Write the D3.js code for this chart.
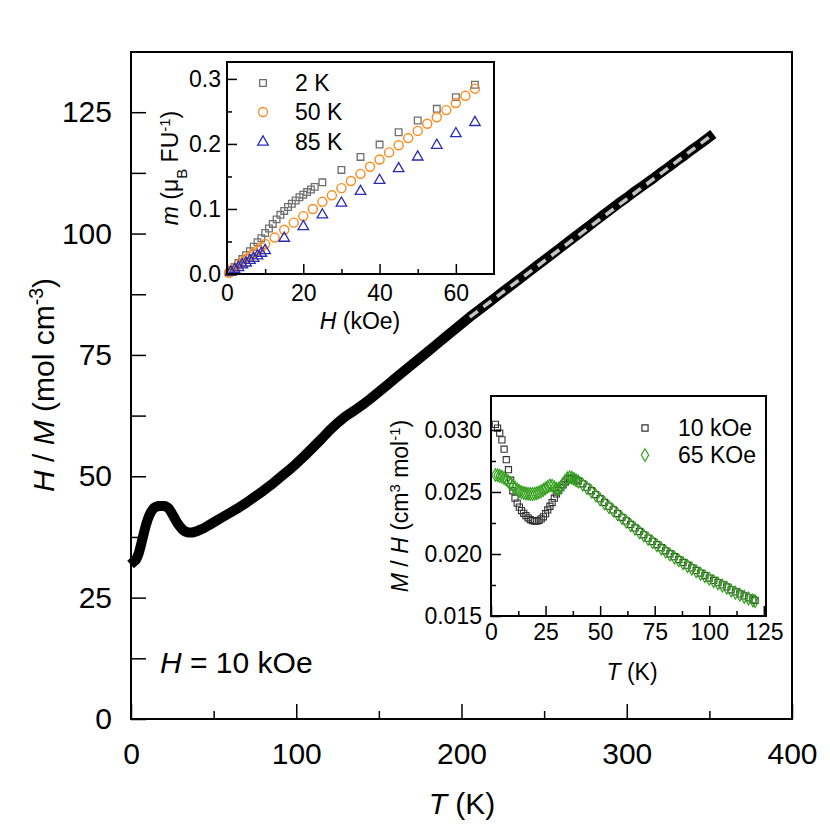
<!DOCTYPE html>
<html>
<head>
<meta charset="utf-8">
<script src="https://cdn.jsdelivr.net/npm/d3@7"></script>
<style>
  html, body { margin: 0; padding: 0; background: #fff; }
  text { font-family: "Liberation Sans", Arial, Helvetica, sans-serif; fill: #000; }
</style>
</head>
<body>
<svg id="chart" width="830" height="830"></svg>
<script>
// ---------------- DATA ----------------
// Main panel: H/M vs T at H = 10 kOe
const mainT  = [2,3,4,5,6,7,8,9,10,11,12,13,14,15,16,17,18,19,20,21,22,23,24,25,26,27,28,29,30,31,32,33,34,35,36,37,38,40,42,44,46,48,50,55,60,65,70,75,80,85,90,95,100,105,110,115,120,125,130,135,140,145,150,155,160,165,170,175,180,185,190,195,200,205,210,215,220,225,230,235,240,245,250,255,260,265,270,275,280,285,290,295,300,305,310,315,320,325,330,335,340,345,350];
const mainHM = [32.5,32.8,33.5,34.5,35.8,37.2,38.6,39.9,41.0,41.9,42.6,43.1,43.5,43.7,43.8,43.9,43.9,43.9,43.9,43.8,43.6,43.3,42.8,42.2,41.6,41.0,40.4,39.9,39.5,39.1,38.8,38.6,38.5,38.4,38.4,38.4,38.5,38.7,39.0,39.3,39.7,40.1,40.5,41.5,42.5,43.5,44.6,45.8,47.0,48.3,49.7,51.1,52.6,54.2,55.9,57.6,59.4,61.0,62.4,63.5,64.7,66.0,67.4,68.8,70.2,71.6,73.0,74.4,75.8,77.2,78.6,80.0,81.4,82.8,84.1,85.4,86.7,88.0,89.3,90.6,91.9,93.2,94.5,95.8,97.1,98.4,99.7,101.0,102.3,103.6,104.9,106.2,107.4,108.7,109.9,111.1,112.4,113.6,114.9,116.1,117.4,118.6,119.9];
// Curie-Weiss fit (dashed) end points
const fitT  = [205, 350];
const fitHM = [82.8, 119.9];

const mainXTicks = [0,100,200,300,400];
const mainXMinor = [50,150,250,350];
const mainYTicks = [0,25,50,75,100,125];
const mainYMinor = [12.5,37.5,62.5,87.5,112.5];

// Inset 1: m vs H
const h2K = [0.5,1,2,3,4,5,6,7,8,9,10,11,12,13,14,15,16,17,18,19,20,21,22,23,25,30,35,40,45,50,55,60,65];
const m2K = [0.002,0.005,0.011,0.017,0.023,0.029,0.035,0.042,0.049,0.055,0.063,0.070,0.077,0.084,0.091,0.097,0.103,0.108,0.113,0.118,0.122,0.126,0.130,0.134,0.141,0.160,0.180,0.199,0.218,0.236,0.254,0.272,0.291];
const h50K = [0.5,1,2,3,4,5,6,7,8,9,10,12.5,15,17.5,20,22.5,25,27.5,30,32.5,35,37.5,40,42.5,45,47.5,50,52.5,55,57.5,60,62.5,65];
const m50K = [0.002,0.005,0.009,0.014,0.018,0.023,0.027,0.032,0.036,0.041,0.046,0.056,0.068,0.079,0.089,0.100,0.111,0.121,0.132,0.143,0.154,0.165,0.176,0.187,0.198,0.209,0.220,0.231,0.241,0.252,0.263,0.274,0.285];
const h85K = [1,2,3,4,5,6,7,8,9,10,15,20,25,30,35,40,45,50,55,60,65];
const m85K = [0.003,0.007,0.010,0.014,0.017,0.021,0.024,0.028,0.032,0.036,0.055,0.073,0.091,0.109,0.127,0.144,0.162,0.180,0.198,0.216,0.233];
const in1XTicks = [0,20,40,60];
const in1XMinor = [10,30,50];
const in1YTicks = [0,0.1,0.2,0.3];
const in1YMinor = [0.05,0.15,0.25];

// Inset 2: M/H vs T
const chiT = [2,3,4,5,6,7,8,9,10,11,12,13,14,15,16,17,18,19,20,21,22,23,24,25,26,27,28,29,30,31,32,33,34,35,36,37,38,39,40,42,44,46,48,50,52,54,56,58,60,62,64,66,68,70,72,74,76,78,80,82,84,86,88,90,92,94,96,98,100,102,104,106,108,110,112,114,116,118,120,121];
const chi10k = [0.03045,0.03015,0.02975,0.02920,0.02845,0.02760,0.02680,0.02595,0.02510,0.02450,0.02410,0.02378,0.02350,0.02328,0.02310,0.02292,0.02278,0.02270,0.02266,0.02266,0.02272,0.02283,0.02300,0.02325,0.02355,0.02385,0.02415,0.02450,0.02485,0.02512,0.02535,0.02558,0.02580,0.02598,0.02610,0.02612,0.02606,0.02597,0.02590,0.02566,0.02539,0.02510,0.02479,0.02446,0.02416,0.02386,0.02356,0.02326,0.02296,0.02267,0.02238,0.02210,0.02182,0.02155,0.02128,0.02102,0.02076,0.02051,0.02026,0.02002,0.01978,0.01955,0.01932,0.01910,0.01888,0.01867,0.01846,0.01826,0.01806,0.01787,0.01769,0.01751,0.01734,0.01711,0.01694,0.01678,0.01662,0.01647,0.01632,0.01626];
const chi65k = [0.02637,0.02635,0.02630,0.02622,0.02612,0.02600,0.02585,0.02567,0.02550,0.02535,0.02520,0.02508,0.02498,0.02492,0.02488,0.02485,0.02484,0.02484,0.02486,0.02490,0.02497,0.02506,0.02517,0.02530,0.02542,0.02552,0.02550,0.02538,0.02525,0.02525,0.02540,0.02565,0.02590,0.02610,0.02618,0.02615,0.02605,0.02594,0.02585,0.02560,0.02533,0.02504,0.02473,0.02440,0.02410,0.02380,0.02350,0.02320,0.02290,0.02261,0.02232,0.02204,0.02176,0.02149,0.02122,0.02096,0.02070,0.02045,0.02020,0.01996,0.01972,0.01949,0.01926,0.01904,0.01882,0.01861,0.01840,0.01820,0.01800,0.01781,0.01763,0.01745,0.01728,0.01705,0.01688,0.01672,0.01656,0.01641,0.01626,0.01620];
const in2XTicks = [0,25,50,75,100,125];
const in2XMinor = [12.5,37.5,62.5,87.5,112.5];
const in2YTicks = [0.015,0.020,0.025,0.030];
const in2YMinor = [0.0175,0.0225,0.0275];

// ---------------- DRAW ----------------
const svg = d3.select("#chart");
const FONT_MAIN = 30, FONT_IN = 23;

function rich(sel, parts) {
  parts.forEach(p => {
    const t = sel.append("tspan").text(p.t);
    if (p.i) t.attr("font-style", "italic");
    if (p.sup) t.attr("baseline-shift", "super").attr("font-size", "0.65em");
    if (p.sub) t.attr("baseline-shift", "sub").attr("font-size", "0.65em");
  });
  return sel;
}

function drawAxes(g, x, y, opt) {
  const [x0, x1] = x.range(), [y0, y1] = y.range();
  g.append("g").attr("transform", `translate(0,${y0})`)
    .call(d3.axisBottom(x).tickValues(opt.xTicks).tickSize(-opt.major).tickPadding(opt.xPad).tickFormat(opt.xFmt))
    .call(s => { s.select(".domain").remove(); s.selectAll("text").attr("font-size", opt.font).attr("font-family", null); s.selectAll("line").attr("stroke-width", 1.5); });
  g.append("g").attr("transform", `translate(0,${y0})`)
    .call(d3.axisBottom(x).tickValues(opt.xMinor).tickSize(-opt.xMinorLen).tickFormat(""))
    .call(s => { s.select(".domain").remove(); s.selectAll("line").attr("stroke-width", 1.5); });
  g.append("g").attr("transform", `translate(${x0},0)`)
    .call(d3.axisLeft(y).tickValues(opt.yTicks).tickSize(-opt.major).tickPadding(opt.yPad).tickFormat(opt.yFmt))
    .call(s => { s.select(".domain").remove(); s.selectAll("text").attr("font-size", opt.font).attr("font-family", null); s.selectAll("line").attr("stroke-width", 1.5); });
  g.append("g").attr("transform", `translate(${x0},0)`)
    .call(d3.axisLeft(y).tickValues(opt.yMinor).tickSize(-opt.yMinorLen).tickFormat(""))
    .call(s => { s.select(".domain").remove(); s.selectAll("line").attr("stroke-width", 1.5); });
  g.append("rect").attr("x", x0).attr("y", y1).attr("width", x1 - x0).attr("height", y0 - y1)
    .attr("fill", "none").attr("stroke", "#000").attr("stroke-width", 2);
}

// ---- main panel ----
const xM = d3.scaleLinear().domain([0, 400]).range([131, 792]);
const yM = d3.scaleLinear().domain([0, 137.4]).range([719, 52]);
const gM = svg.append("g");

const lineM = d3.line().x((d, i) => xM(mainT[i])).y((d, i) => yM(mainHM[i]));
gM.append("path").datum(mainHM).attr("d", lineM).attr("fill", "none")
  .attr("stroke", "#000").attr("stroke-width", 10).attr("stroke-linejoin", "round").attr("stroke-linecap", "square");
const fitLine = d3.line().x((d, i) => xM(fitT[i])).y((d, i) => yM(fitHM[i]));
gM.append("path").datum(fitHM).attr("d", fitLine).attr("fill", "none")
  .attr("stroke", "#c4c4c4").attr("stroke-width", 3.5).attr("stroke-dasharray", "10,7");

drawAxes(gM, xM, yM, {
  xTicks: mainXTicks, xMinor: mainXMinor, yTicks: mainYTicks, yMinor: mainYMinor,
  major: 15, xMinorLen: 8, yMinorLen: 15, xPad: 24, yPad: 19, font: FONT_MAIN,
  xFmt: d3.format("d"), yFmt: d3.format("d")
});

rich(svg.append("text").attr("x", 462).attr("y", 814).attr("text-anchor", "middle").attr("font-size", FONT_MAIN),
  [{t: "T", i: true}, {t: " (K)"}]);
rich(svg.append("text").attr("transform", "translate(54,385) rotate(-90)").attr("text-anchor", "middle").attr("font-size", FONT_MAIN),
  [{t: "H", i: true}, {t: " / "}, {t: "M", i: true}, {t: " (mol cm"}, {t: "-3", sup: true}, {t: ")"}]);
rich(svg.append("text").attr("x", 160).attr("y", 673).attr("font-size", FONT_MAIN),
  [{t: "H", i: true}, {t: " = 10 kOe"}]);

// ---- inset 1 ----
const x1 = d3.scaleLinear().domain([0, 70]).range([227, 494]);
const y1 = d3.scaleLinear().domain([0, 0.326]).range([274, 62]);
const g1 = svg.append("g");
g1.append("rect").attr("x", 227).attr("y", 62).attr("width", 267).attr("height", 212).attr("fill", "#fff");

const sq = d3.symbol().type(d3.symbolSquare).size(44)();
const circ = d3.symbol().type(d3.symbolCircle).size(64)();
const tri = d3.symbol().type(d3.symbolTriangle).size(48)();
const sq2 = d3.symbol().type(d3.symbolSquare).size(38)();
const dia = d3.symbol().type(d3.symbolDiamond).size(46)();

const c2K = "#707070", c50K = "#ff8a1c", c85K = "#2a2ab4", c10k = "#333333", c65k = "#35a01e";

g1.selectAll("path.s2").data(m2K).join("path").attr("class", "s2").attr("d", sq)
  .attr("transform", (d, i) => `translate(${x1(h2K[i])},${y1(d)})`)
  .attr("fill", "none").attr("stroke", c2K).attr("stroke-width", 1.3);
g1.selectAll("path.s50").data(m50K).join("path").attr("class", "s50").attr("d", circ)
  .attr("transform", (d, i) => `translate(${x1(h50K[i])},${y1(d)})`)
  .attr("fill", "none").attr("stroke", c50K).attr("stroke-width", 1.4);
g1.selectAll("path.s85").data(m85K).join("path").attr("class", "s85").attr("d", tri)
  .attr("transform", (d, i) => `translate(${x1(h85K[i])},${y1(d)})`)
  .attr("fill", "none").attr("stroke", c85K).attr("stroke-width", 1.3);

drawAxes(g1, x1, y1, {
  xTicks: in1XTicks, xMinor: in1XMinor, yTicks: in1YTicks, yMinor: in1YMinor,
  major: 10, xMinorLen: 5, yMinorLen: 5, xPad: 11, yPad: 6, font: FONT_IN,
  xFmt: d3.format("d"), yFmt: d3.format(".1f")
});

const leg1 = [
  {label: "2 K", sym: sq, col: c2K, y: 83},
  {label: "50 K", sym: circ, col: c50K, y: 112},
  {label: "85 K", sym: tri, col: c85K, y: 142}
];
leg1.forEach(l => {
  g1.append("path").attr("d", l.sym).attr("transform", `translate(263,${l.y})`)
    .attr("fill", "none").attr("stroke", l.col).attr("stroke-width", 1.3);
  g1.append("text").attr("x", 295).attr("y", l.y + 8).attr("font-size", FONT_IN).text(l.label);
});
rich(svg.append("text").attr("x", 360).attr("y", 329).attr("text-anchor", "middle").attr("font-size", FONT_IN),
  [{t: "H", i: true}, {t: " (kOe)"}]);
rich(svg.append("text").attr("transform", "translate(178,168) rotate(-90)").attr("text-anchor", "middle").attr("font-size", FONT_IN),
  [{t: "m", i: true}, {t: " (μ"}, {t: "B", sub: true}, {t: " FU"}, {t: "-1", sup: true}, {t: ")"}]);

// ---- inset 2 ----
const x2 = d3.scaleLinear().domain([0, 126]).range([491, 766]);
const y2 = d3.scaleLinear().domain([0.015, 0.03274]).range([616, 396]);
const g2 = svg.append("g");
g2.append("rect").attr("x", 491).attr("y", 396).attr("width", 275).attr("height", 220).attr("fill", "#fff");

g2.selectAll("path.c10").data(chi10k).join("path").attr("class", "c10").attr("d", sq2)
  .attr("transform", (d, i) => `translate(${x2(chiT[i])},${y2(d)})`)
  .attr("fill", "none").attr("stroke", c10k).attr("stroke-width", 1.1);
g2.selectAll("path.c65").data(chi65k).join("path").attr("class", "c65").attr("d", dia)
  .attr("transform", (d, i) => `translate(${x2(chiT[i])},${y2(d)})`)
  .attr("fill", "none").attr("stroke", c65k).attr("stroke-width", 1.2);

drawAxes(g2, x2, y2, {
  xTicks: in2XTicks, xMinor: in2XMinor, yTicks: in2YTicks, yMinor: in2YMinor,
  major: 10, xMinorLen: 5, yMinorLen: 5, xPad: 8, yPad: 9, font: FONT_IN,
  xFmt: d3.format("d"), yFmt: d3.format(".3f")
});

const leg2 = [
  {label: "10 kOe", sym: sq2, col: c10k, y: 428},
  {label: "65 KOe", sym: dia, col: c65k, y: 455}
];
leg2.forEach(l => {
  g2.append("path").attr("d", l.sym).attr("transform", `translate(645,${l.y})`)
    .attr("fill", "none").attr("stroke", l.col).attr("stroke-width", 1.2);
  g2.append("text").attr("x", 678).attr("y", l.y + 8).attr("font-size", FONT_IN).text(l.label);
});
rich(svg.append("text").attr("x", 632).attr("y", 680).attr("text-anchor", "middle").attr("font-size", FONT_IN),
  [{t: "T", i: true}, {t: " (K)"}]);
rich(svg.append("text").attr("transform", "translate(408,506) rotate(-90)").attr("text-anchor", "middle").attr("font-size", FONT_IN),
  [{t: "M", i: true}, {t: " / "}, {t: "H", i: true}, {t: " (cm"}, {t: "3", sup: true}, {t: " mol"}, {t: "-1", sup: true}, {t: ")"}]);
</script>
</body>
</html>
